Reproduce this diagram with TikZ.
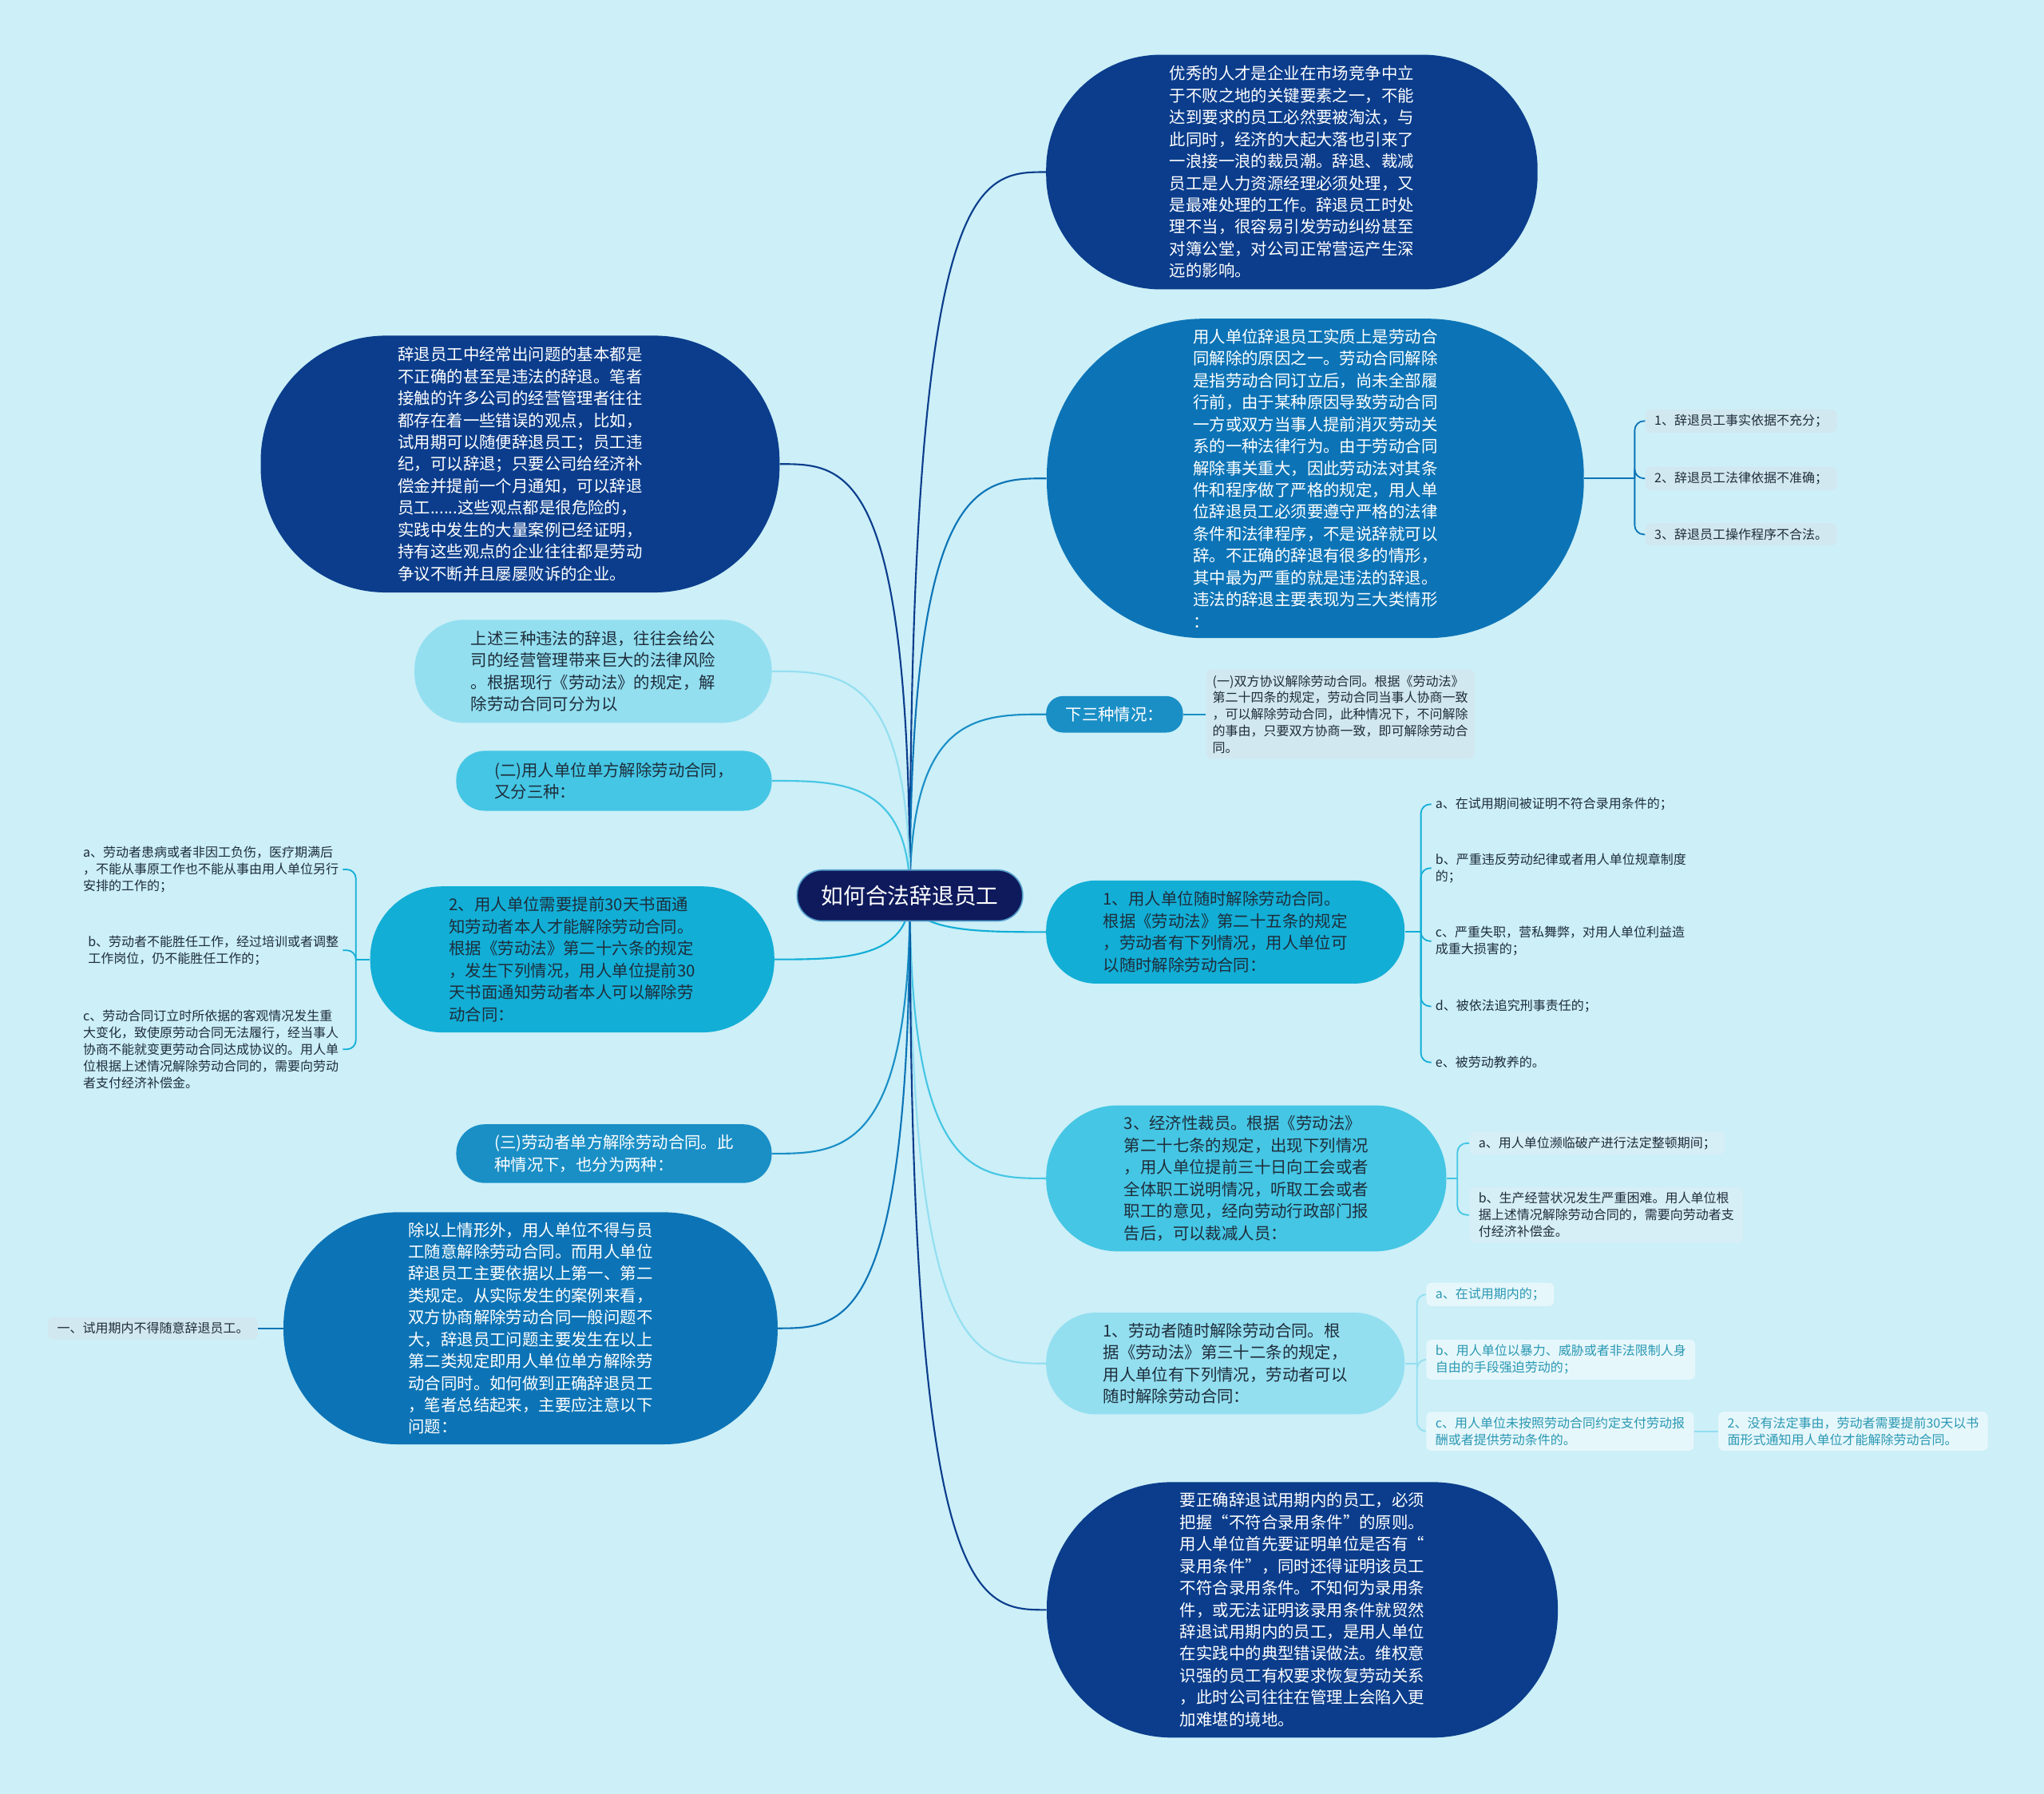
\documentclass[tikz,border=0pt]{standalone}
\usepackage{fontspec}
\setmainfont{Noto Sans CJK SC}
\usepackage{tikz}
\usetikzlibrary{calc,backgrounds}
\usepackage{xcolor}
\definecolor{bgcol}{HTML}{CCEFF8}
\definecolor{hubcol}{HTML}{0E1A5C}
\definecolor{navy}{HTML}{0B3D8C}
\definecolor{deepblue}{HTML}{0C74B6}
\definecolor{midblue}{HTML}{1A8FC6}
\definecolor{cyanA}{HTML}{12AED6}
\definecolor{cyanB}{HTML}{45C6E4}
\definecolor{cyanC}{HTML}{93DFF0}
\definecolor{inkdark}{HTML}{1E2D3B}
\definecolor{leafgray}{HTML}{D2E8F0}
\definecolor{leafpale}{HTML}{D6EEF6}
\definecolor{leafwhite}{HTML}{E6F7FB}
\definecolor{leafteal}{HTML}{2A98B3}

\begin{document}
\begin{tikzpicture}[
  x=1pt, y=-1pt,
  hub/.style={rounded corners=19pt, fill=hubcol, draw=deepblue!70, line width=1pt, text=white, font=\fontsize{17}{20}\selectfont, minimum width=173pt, minimum height=39pt},
  topic/.style={rounded corners=#1, inner sep=0pt, align=left, font=\fontsize{12.5}{16.8}\selectfont},
  leaf/.style={inner xsep=3pt, inner ysep=2pt, align=left, text=inkdark, font=\fontsize{9.8}{12.8}\selectfont},
  leafbox/.style={leaf, fill=#1, rounded corners=4pt, inner xsep=7pt, inner ysep=4pt},
  link/.style={line width=1.3pt},
  sublink/.style={line width=1.1pt, rounded corners=7pt}
]
  \useasboundingbox (0,0) rectangle (1568,1376);

  \node[hub] (hub) at (698,687) {如何合法辞退员工};

  \node[topic=88pt, fill=navy, text=white, minimum width=377pt, minimum height=180pt] (r1) at (991,132) {
    优秀的人才是企业在市场竞争中立\\
    于不败之地的关键要素之一，不能\\
    达到要求的员工必然要被淘汰，与\\
    此同时，经济的大起大落也引来了\\
    一浪接一浪的裁员潮。辞退、裁减\\
    员工是人力资源经理必须处理，又\\
    是最难处理的工作。辞退员工时处\\
    理不当，很容易引发劳动纠纷甚至\\
    对簿公堂，对公司正常营运产生深\\
    远的影响。
  };
  \node[topic=120pt, fill=deepblue, text=white, minimum width=412pt, minimum height=245pt] (r2) at (1009,367) {
    用人单位辞退员工实质上是劳动合\\
    同解除的原因之一。劳动合同解除\\
    是指劳动合同订立后，尚未全部履\\
    行前，由于某种原因导致劳动合同\\
    一方或双方当事人提前消灭劳动关\\
    系的一种法律行为。由于劳动合同\\
    解除事关重大，因此劳动法对其条\\
    件和程序做了严格的规定，用人单\\
    位辞退员工必须要遵守严格的法律\\
    条件和法律程序，不是说辞就可以\\
    辞。不正确的辞退有很多的情形，\\
    其中最为严重的就是违法的辞退。\\
    违法的辞退主要表现为三大类情形\\
    ：
  };
  \node[topic=13pt, fill=midblue, text=white, minimum width=105pt, minimum height=28pt] (r3) at (855,548) {下三种情况：};
  \node[topic=38pt, fill=cyanA, text=inkdark, minimum width=275pt, minimum height=79pt] (r4) at (940,715) {
    1、用人单位随时解除劳动合同。\\
    根据《劳动法》第二十五条的规定\\
    ，劳动者有下列情况，用人单位可\\
    以随时解除劳动合同：
  };
  \node[topic=55pt, fill=cyanB, text=inkdark, minimum width=307pt, minimum height=112pt] (r5) at (956,904) {
    3、经济性裁员。根据《劳动法》\\
    第二十七条的规定，出现下列情况\\
    ，用人单位提前三十日向工会或者\\
    全体职工说明情况，听取工会或者\\
    职工的意见，经向劳动行政部门报\\
    告后，可以裁减人员：
  };
  \node[topic=38pt, fill=cyanC, text=inkdark, minimum width=275pt, minimum height=78pt] (r6) at (940,1046) {
    1、劳动者随时解除劳动合同。根\\
    据《劳动法》第三十二条的规定，\\
    用人单位有下列情况，劳动者可以\\
    随时解除劳动合同：
  };
  \node[topic=96pt, fill=navy, text=white, minimum width=392pt, minimum height=196pt] (r7) at (999,1235) {
    要正确辞退试用期内的员工，必须\\
    把握“不符合录用条件”的原则。\\
    用人单位首先要证明单位是否有“\\
    录用条件”，同时还得证明该员工\\
    不符合录用条件。不知何为录用条\\
    件，或无法证明该录用条件就贸然\\
    辞退试用期内的员工，是用人单位\\
    在实践中的典型错误做法。维权意\\
    识强的员工有权要求恢复劳动关系\\
    ，此时公司往往在管理上会陷入更\\
    加难堪的境地。
  };

  \node[topic=96pt, fill=navy, text=white, minimum width=398pt, minimum height=197pt] (l1) at (399,356) {
    辞退员工中经常出问题的基本都是\\
    不正确的甚至是违法的辞退。笔者\\
    接触的许多公司的经营管理者往往\\
    都存在着一些错误的观点，比如，\\
    试用期可以随便辞退员工；员工违\\
    纪，可以辞退；只要公司给经济补\\
    偿金并提前一个月通知，可以辞退\\
    员工......这些观点都是很危险的，\\
    实践中发生的大量案例已经证明，\\
    持有这些观点的企业往往都是劳动\\
    争议不断并且屡屡败诉的企业。
  };
  \node[topic=38pt, fill=cyanC, text=inkdark, minimum width=274pt, minimum height=79pt] (l2) at (455,515) {
    上述三种违法的辞退，往往会给公\\
    司的经营管理带来巨大的法律风险\\
    。根据现行《劳动法》的规定，解\\
    除劳动合同可分为以
  };
  \node[topic=22pt, fill=cyanB, text=inkdark, minimum width=242pt, minimum height=46pt] (l3) at (471,599) {
    (二)用人单位单方解除劳动合同，\\
    又分三种：
  };
  \node[topic=55pt, fill=cyanA, text=inkdark, minimum width=310pt, minimum height=112pt] (l4) at (439,736) {
    2、用人单位需要提前30天书面通\\
    知劳动者本人才能解除劳动合同。\\
    根据《劳动法》第二十六条的规定\\
    ，发生下列情况，用人单位提前30\\
    天书面通知劳动者本人可以解除劳\\
    动合同：
  };
  \node[topic=22pt, fill=midblue, text=white, minimum width=242pt, minimum height=45pt] (l5) at (471,885) {
    (三)劳动者单方解除劳动合同。此\\
    种情况下，也分为两种：
  };
  \node[topic=87pt, fill=deepblue, text=white, minimum width=379pt, minimum height=178pt] (l6) at (407,1019) {
    除以上情形外，用人单位不得与员\\
    工随意解除劳动合同。而用人单位\\
    辞退员工主要依据以上第一、第二\\
    类规定。从实际发生的案例来看，\\
    双方协商解除劳动合同一般问题不\\
    大，辞退员工问题主要发生在以上\\
    第二类规定即用人单位单方解除劳\\
    动合同时。如何做到正确辞退员工\\
    ，笔者总结起来，主要应注意以下\\
    问题：
  };

  \node[leafbox=leafgray, anchor=west] (r2a) at (1262,323) {1、辞退员工事实依据不充分；};
  \node[leafbox=leafgray, anchor=west] (r2b) at (1262,367) {2、辞退员工法律依据不准确；};
  \node[leafbox=leafgray, anchor=west] (r2c) at (1262,410) {3、辞退员工操作程序不合法。};
  \coordinate (r2j) at (1254,367);

  \node[leafbox=leafgray, anchor=west, inner xsep=5pt] (r3a) at (925,548) {
    (一)双方协议解除劳动合同。根据《劳动法》\\
    第二十四条的规定，劳动合同当事人协商一致\\
    ，可以解除劳动合同，此种情况下，不问解除\\
    的事由，只要双方协商一致，即可解除劳动合\\
    同。
  };

  \node[leaf, anchor=west] (r4a) at (1098,617) {a、在试用期间被证明不符合录用条件的；};
  \node[leaf, anchor=west] (r4b) at (1098,666) {b、严重违反劳动纪律或者用人单位规章制度\\的；};
  \node[leaf, anchor=west] (r4c) at (1098,722) {c、严重失职，营私舞弊，对用人单位利益造\\成重大损害的；};
  \node[leaf, anchor=west] (r4d) at (1098,772) {d、被依法追究刑事责任的；};
  \node[leaf, anchor=west] (r4e) at (1098,815) {e、被劳动教养的。};
  \coordinate (r4j) at (1090,715);

  \node[leafbox=leafpale, anchor=west] (r5a) at (1127,877) {a、用人单位濒临破产进行法定整顿期间；};
  \node[leafbox=leafpale, anchor=west] (r5b) at (1127,932) {
    b、生产经营状况发生严重困难。用人单位根\\
    据上述情况解除劳动合同的，需要向劳动者支\\
    付经济补偿金。
  };
  \coordinate (r5j) at (1118,904);

  \node[leafbox=leafwhite, text=leafteal, anchor=west] (r6a) at (1094,993) {a、在试用期内的；};
  \node[leafbox=leafwhite, text=leafteal, anchor=west] (r6b) at (1094,1043) {
    b、用人单位以暴力、威胁或者非法限制人身\\
    自由的手段强迫劳动的；
  };
  \node[leafbox=leafwhite, text=leafteal, anchor=west] (r6c) at (1094,1098) {
    c、用人单位未按照劳动合同约定支付劳动报\\
    酬或者提供劳动条件的。
  };
  \node[leafbox=leafwhite, text=leafteal, anchor=west] (r6d) at (1318,1098) {
    2、没有法定事由，劳动者需要提前30天以书\\
    面形式通知用人单位才能解除劳动合同。
  };
  \coordinate (r6j) at (1087,1046);

  \node[leaf, anchor=east] (l4a) at (263,667) {
    a、劳动者患病或者非因工负伤，医疗期满后\\
    ，不能从事原工作也不能从事由用人单位另行\\
    安排的工作的；
  };
  \node[leaf, anchor=east] (l4b) at (263,729) {
    b、劳动者不能胜任工作，经过培训或者调整\\
    工作岗位，仍不能胜任工作的；
  };
  \node[leaf, anchor=east] (l4c) at (263,805) {
    c、劳动合同订立时所依据的客观情况发生重\\
    大变化，致使原劳动合同无法履行，经当事人\\
    协商不能就变更劳动合同达成协议的。用人单\\
    位根据上述情况解除劳动合同的，需要向劳动\\
    者支付经济补偿金。
  };
  \coordinate (l4j) at (273,736);

  \node[leafbox=leafgray, anchor=east] (l6a) at (198,1019) {一、试用期内不得随意辞退员工。};

  \begin{scope}[on background layer]
    \fill[bgcol] (0,0) rectangle (1568,1376);
    \foreach \t/\c in {r1/navy, r2/deepblue, r3/midblue, r4/cyanA, r5/cyanB, r6/cyanC, r7/navy}
      \draw[link, draw=\c] (hub.center) .. controls (hub.center |- \t.west) and ($(hub.center |- \t.west)!0.5!(\t.west)$) .. (\t.west);
    \foreach \t/\c in {l1/navy, l2/cyanC, l3/cyanB, l4/cyanA, l5/midblue, l6/deepblue}
      \draw[link, draw=\c] (hub.center) .. controls (hub.center |- \t.east) and ($(hub.center |- \t.east)!0.5!(\t.east)$) .. (\t.east);

    \draw[sublink, draw=deepblue] (r2.east) -- (r2j);
    \foreach \l in {r2a,r2b,r2c}
      \draw[sublink, draw=deepblue] (r2j) |- (\l.west);
    \draw[sublink, draw=midblue] (r3.east) -- (r3a.west);
    \draw[sublink, draw=cyanA] (r4.east) -- (r4j);
    \foreach \l in {r4a,r4b,r4c,r4d,r4e}
      \draw[sublink, draw=cyanA] (r4j) |- (\l.west);
    \draw[sublink, draw=cyanB] (r5.east) -- (r5j);
    \foreach \l in {r5a,r5b}
      \draw[sublink, draw=cyanB] (r5j) |- (\l.west);
    \draw[sublink, draw=cyanC] (r6.east) -- (r6j);
    \foreach \l in {r6a,r6b,r6c}
      \draw[sublink, draw=cyanC] (r6j) |- (\l.west);
    \draw[sublink, draw=cyanC] (r6c.east) -- (r6d.west);
    \draw[sublink, draw=cyanA] (l4.west) -- (l4j);
    \foreach \l in {l4a,l4b,l4c}
      \draw[sublink, draw=cyanA] (l4j) |- (\l.east);
    \draw[sublink, draw=deepblue] (l6a.east) -- (l6.west);
  \end{scope}
\end{tikzpicture}
\end{document}
